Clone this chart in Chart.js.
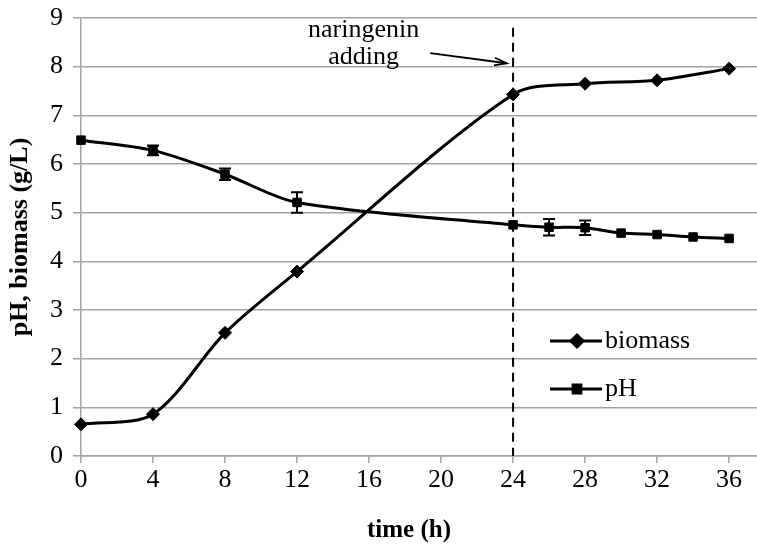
<!DOCTYPE html>
<html><head><meta charset="utf-8">
<script src="https://cdn.jsdelivr.net/npm/chart.js@4.4.1/dist/chart.umd.min.js"></script>
<style>html,body{margin:0;padding:0;background:#fff}</style>
</head><body>
<canvas id="c" width="757" height="545"></canvas>
<script>
// ---- data ----
const timeBiomass = [0, 4, 8, 12, 24, 28, 32, 36];
const biomass     = [0.65, 0.86, 2.53, 3.79, 7.43, 7.65, 7.72, 7.96];
const timePH      = [0, 4, 8, 12, 24, 26, 28, 30, 32, 34, 36];
const pH          = [6.49, 6.28, 5.79, 5.21, 4.75, 4.70, 4.69, 4.58, 4.55, 4.50, 4.47];
const pHErr       = [0, 0.10, 0.12, 0.21, 0, 0.17, 0.15, 0, 0, 0, 0];
const seriesNames = ['biomass', 'pH'];
const additionTime = 24;
const annotationText = ['naringenin', 'adding'];
const xTitle = 'time (h)';
const yTitle = 'pH, biomass (g/L)';

// ---- layout / style ----
const FONT = "'Liberation Serif','Times New Roman',serif";
const GRID = '#a3a3a3';
const anno = { textX: 15.7, line1Y: 8.76, line2Y: 8.2, arrowFrom: [19.4, 8.28], arrowTo: [23.65, 8.07], dashTop: 8.8 };

const toXY = (xs, ys) => xs.map((x, i) => ({ x: x, y: ys[i] }));

const errorBars = {
  id: 'errorBars',
  afterDatasetsDraw(chart) {
    const meta = chart.getDatasetMeta(1);
    const ys = chart.scales.y, ctx = chart.ctx;
    ctx.save();
    ctx.strokeStyle = '#000'; ctx.lineWidth = 2;
    meta.data.forEach((pt, i) => {
      const e = pHErr[i];
      if (!e) return;
      const top = ys.getPixelForValue(pH[i] + e), bot = ys.getPixelForValue(pH[i] - e);
      ctx.beginPath();
      ctx.moveTo(pt.x, top); ctx.lineTo(pt.x, bot);
      ctx.moveTo(pt.x - 6, top); ctx.lineTo(pt.x + 6, top);
      ctx.moveTo(pt.x - 6, bot); ctx.lineTo(pt.x + 6, bot);
      ctx.stroke();
    });
    ctx.restore();
  }
};

const annotation = {
  id: 'annotation',
  beforeDatasetsDraw(chart) {
    const xs = chart.scales.x, ys = chart.scales.y, ctx = chart.ctx;
    ctx.save();
    ctx.strokeStyle = '#000'; ctx.lineWidth = 2; ctx.setLineDash([9, 6]);
    const px = xs.getPixelForValue(additionTime);
    ctx.beginPath();
    ctx.moveTo(px, ys.getPixelForValue(anno.dashTop));
    ctx.lineTo(px, ys.getPixelForValue(0));
    ctx.stroke();
    ctx.restore();
  },
  afterDraw(chart) {
    const xs = chart.scales.x, ys = chart.scales.y, ctx = chart.ctx;
    ctx.save();
    ctx.fillStyle = '#000';
    ctx.font = '26px ' + FONT;
    ctx.textAlign = 'center'; ctx.textBaseline = 'middle';
    ctx.fillText(annotationText[0], xs.getPixelForValue(anno.textX), ys.getPixelForValue(anno.line1Y));
    ctx.fillText(annotationText[1], xs.getPixelForValue(anno.textX), ys.getPixelForValue(anno.line2Y));
    const x1 = xs.getPixelForValue(anno.arrowFrom[0]), y1 = ys.getPixelForValue(anno.arrowFrom[1]);
    const x2 = xs.getPixelForValue(anno.arrowTo[0]), y2 = ys.getPixelForValue(anno.arrowTo[1]);
    ctx.strokeStyle = '#000'; ctx.lineWidth = 1.8;
    ctx.beginPath(); ctx.moveTo(x1, y1); ctx.lineTo(x2, y2); ctx.stroke();
    const a = Math.atan2(y2 - y1, x2 - x1), L = 13, W = 0.3;
    ctx.beginPath();
    ctx.moveTo(x2 - L * Math.cos(a - W), y2 - L * Math.sin(a - W));
    ctx.lineTo(x2, y2);
    ctx.lineTo(x2 - L * Math.cos(a + W), y2 - L * Math.sin(a + W));
    ctx.stroke();
    // x-axis title
    ctx.font = 'bold 25px ' + FONT;
    ctx.fillText(xTitle, 409, 531);
    ctx.restore();
  }
};

const customLegend = {
  id: 'customLegend',
  afterDraw(chart) {
    const ctx = chart.ctx;
    const rows = [{ y: 341, style: 'rectRot', r: 6 }, { y: 389, style: 'rect', r: 5.5 }];
    ctx.save();
    rows.forEach((row, i) => {
      ctx.strokeStyle = '#000'; ctx.lineWidth = 3;
      ctx.beginPath(); ctx.moveTo(550, row.y); ctx.lineTo(602, row.y); ctx.stroke();
      Chart.helpers.drawPoint(ctx, { pointStyle: row.style, radius: row.r, borderWidth: 1 }, 577, row.y);
      ctx.fillStyle = '#000';
      ctx.font = '26px ' + FONT;
      ctx.textAlign = 'left'; ctx.textBaseline = 'middle';
      ctx.fillText(seriesNames[i], 605, row.y);
    });
    ctx.restore();
  }
};

new Chart(document.getElementById('c'), {
  type: 'line',
  data: {
    datasets: [
      { label: seriesNames[0], data: toXY(timeBiomass, biomass), borderColor: '#000', backgroundColor: '#000',
        borderWidth: 3, pointStyle: 'rectRot', pointRadius: 6.5, pointBorderWidth: 1, tension: 0.3, fill: false, clip: false },
      { label: seriesNames[1], data: toXY(timePH, pH), borderColor: '#000', backgroundColor: '#000',
        borderWidth: 3, pointStyle: 'rect', pointRadius: 6, pointBorderWidth: 1, tension: 0.3, fill: false, clip: false }
    ]
  },
  options: {
    responsive: false, animation: false, devicePixelRatio: 1,
    layout: { autoPadding: false, padding: { top: 18, right: 0, left: 0, bottom: 0 } },
    plugins: { legend: { display: false }, tooltip: { enabled: false } },
    scales: {
      x: {
        type: 'linear', min: 0, max: 37.55,
        ticks: { stepSize: 4, includeBounds: false, color: '#000', font: { family: FONT, size: 26 }, padding: 2, maxRotation: 0 },
        grid: { drawOnChartArea: false, drawTicks: true, tickLength: 7, color: GRID, lineWidth: 1.5 },
        border: { color: GRID, width: 1.5 },
        title: { display: false },
        afterFit(s) { s.height = 89; s.paddingLeft = 0; s.paddingRight = 0; }
      },
      y: {
        min: 0, max: 9,
        ticks: { stepSize: 1, color: '#000', font: { family: FONT, size: 26 }, padding: 10 },
        grid: { color: GRID, lineWidth: 1.5, tickLength: 8 },
        border: { color: GRID, width: 1.5 },
        title: { display: true, text: yTitle, color: '#000', font: { family: FONT, size: 26, weight: 'bold' }, padding: { top: 5, bottom: 0 } },
        afterFit(s) { s.width = 81; s.paddingTop = 0; s.paddingBottom = 0; }
      }
    }
  },
  plugins: [annotation, errorBars, customLegend]
});
</script>
</body></html>
